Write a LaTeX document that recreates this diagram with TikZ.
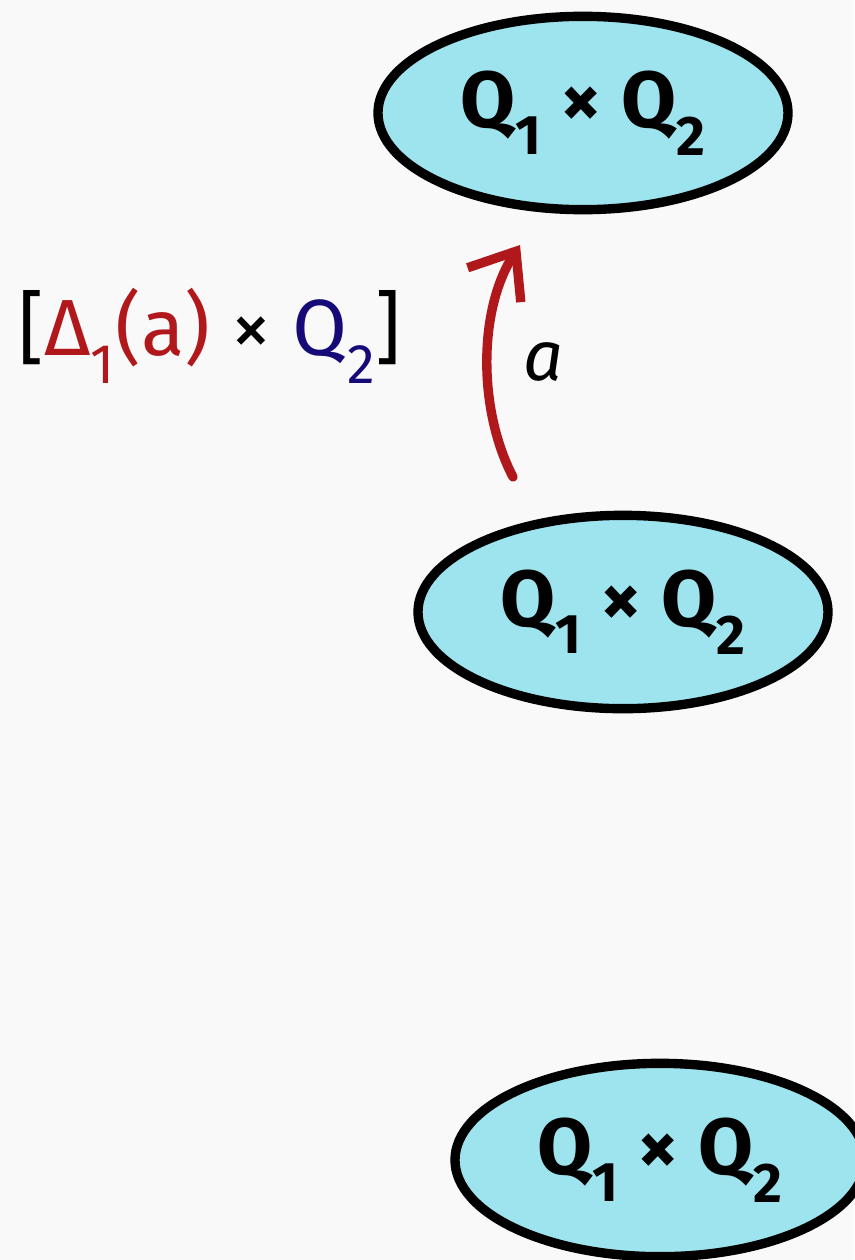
\documentclass[tikz,border=0pt]{standalone}
\usepackage{fontspec}
\setmainfont{Fira Sans}
\usetikzlibrary{arrows.meta, positioning, shapes.geometric}
\definecolor{bgpaper}{HTML}{F9F9F9}
\definecolor{statefill}{HTML}{9EE4EE}
\definecolor{arrred}{HTML}{B0181C}
\definecolor{qblue}{HTML}{160A78}

\begin{document}
\begin{tikzpicture}[x=0.03cm, y=-0.03cm,
    state/.style={ellipse, draw=black, fill=statefill, line width=8pt,
        minimum width=12.3cm, minimum height=5.8cm, inner sep=0pt,
        font=\fontsize{68}{72}\selectfont\bfseries},
    trans/.style={draw=arrred, line width=8pt, line cap=round,
        -{Straight Barb[length=12mm, width=19mm, line width=8pt]}},
    lbl/.style={font=\fontsize{60}{64}\selectfont}]
    \fill[bgpaper] (0,0) rectangle (854,1260);
    \useasboundingbox (0,0) rectangle (854,1260);
    % states
    \node[state] (top) at (583,113) {Q\textsubscript{1} × Q\textsubscript{2}};
    \node[state] (mid) at (623,612) {Q\textsubscript{1} × Q\textsubscript{2}};
    \node[state] (bot) at (660,1160) {Q\textsubscript{1} × Q\textsubscript{2}};
    % transition
    \coordinate (tS) at (513,477);
    \coordinate (tE) at (520,245);
    \draw[trans] (tS) .. controls (478,410) and (478,310) .. (tE);
    \node[lbl] (la) at (543,362) {\itshape a};
    % set label
    \node[lbl, font=\fontsize{68}{72}\selectfont\mdseries] (set) at (210,336)
        {[\textcolor{arrred}{Δ\textsubscript{1}(a)} × \textcolor{qblue}{Q\textsubscript{2}}]};
\end{tikzpicture}
\end{document}
